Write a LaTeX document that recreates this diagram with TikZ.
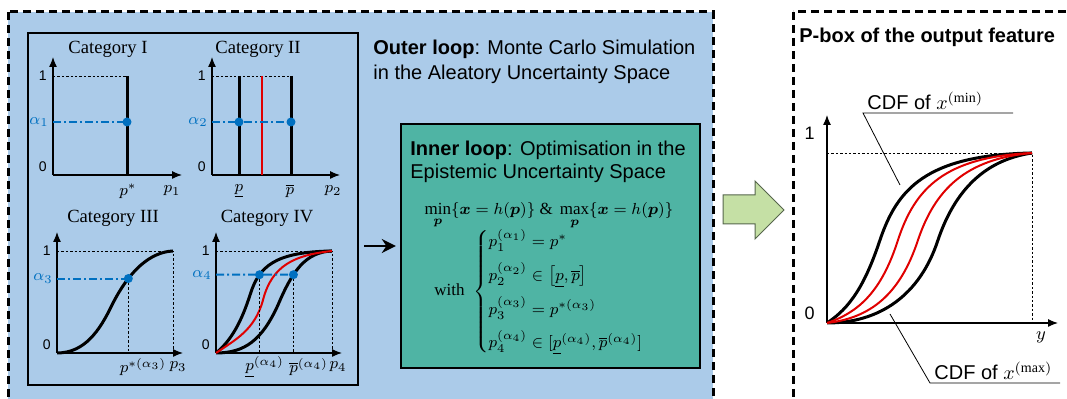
\documentclass[tikz,border=0pt]{standalone}
\usepackage{amsmath,amssymb}
\usepackage{fontspec}
\setmainfont{Liberation Serif}
\setsansfont{Liberation Sans}
\usetikzlibrary{arrows.meta,calc,positioning,fit}
\definecolor{outerblue}{HTML}{ABCBE9}
\definecolor{innerteal}{HTML}{4FB4A4}
\definecolor{arrowgreen}{HTML}{C5E0A5}
\definecolor{arrowedge}{HTML}{56664C}
\definecolor{lvlblue}{HTML}{0070C0}
\definecolor{cdfred}{HTML}{E00000}
\newcommand{\pvec}{\boldsymbol{p}}

\begin{document}
\begin{tikzpicture}[x=0.5pt,y=-0.5pt,
  plotaxis/.style={line width=0.6pt,-{Latex[length=5pt,width=4pt]}},
  cdf/.style={line width=1.5pt},
  redcdf/.style={line width=1pt,cdfred},
  guide/.style={line width=0.3pt,dash pattern=on 1.2pt off 1pt},
  lvl/.style={line width=1pt,lvlblue,dash pattern=on 4pt off 1.5pt on 1pt off 1.5pt},
  lvldot/.style={circle,fill=lvlblue,inner sep=0pt,minimum size=4.5pt},
  ticklab/.style={font=\sffamily\fontsize{7}{8}\selectfont,anchor=east,inner sep=1pt},
  cattitle/.style={font=\fontsize{9.3}{11}\selectfont},
  plab/.style={font=\footnotesize,inner sep=1pt},
  alab/.style={font=\footnotesize,text=lvlblue,anchor=east,inner sep=1pt},
  loopbox/.style={draw,line width=1.2pt,inner sep=0pt},
  dashbox/.style={line width=1.5pt,dash pattern=on 4pt off 2.5pt},
  leader/.style={line width=0.4pt}]
  \useasboundingbox (0,0) rectangle (1067,399);
  \clip (0,0) rectangle (1067,399);

  % outer loop
  \draw[dashbox,fill=outerblue] (8,12) rectangle (713,430);
  \node[loopbox,fit={(28,33) (358,385)}] (plots) {};
  \node[font=\sffamily\fontsize{10}{12.5}\selectfont,align=left,anchor=west,inner sep=0pt] (outerloop) at (373,62)
    {\textbf{Outer loop}: Monte Carlo Simulation\\in the Aleatory Uncertainty Space};

  % Category I
  \node[cattitle] (cat1) at (108,49) {Category I};
  \draw[plotaxis] (53,175) -- (53,57);
  \draw[plotaxis] (53,175) -- (182,175);
  \draw[guide] (53,76) -- (127,76);
  \draw[cdf] (127,76) -- (127,175);
  \draw[lvl] (53,122) -- (127,122);
  \node[lvldot] (d1) at (127,122) {};
  \node[ticklab] (one1) at (49,76) {1};
  \node[ticklab] (zero1) at (49,167) {0};
  \node[alab] (a1) at (51,122) {$\alpha_1$};
  \node[plab] (ps1) at (128,191) {$p^*$};
  \node[plab] (px1) at (172,191) {$p_1$};

  % Category II
  \node[cattitle] (cat2) at (258,49) {Category II};
  \draw[plotaxis] (212,175) -- (212,57);
  \draw[plotaxis] (212,175) -- (340,175);
  \draw[guide] (212,76) -- (291,76);
  \draw[cdf] (239,76) -- (239,175);
  \draw[cdf] (291,76) -- (291,175);
  \draw[redcdf] (262,76) -- (262,175);
  \draw[lvl] (212,122) -- (291,122);
  \node[lvldot] (d2a) at (239,122) {};
  \node[lvldot] (d2b) at (291,122) {};
  \node[ticklab] (one2) at (208,76) {1};
  \node[ticklab] (zero2) at (208,167) {0};
  \node[alab] (a2) at (210,122) {$\alpha_2$};
  \node[plab] (pl2) at (239,191) {$\underline{p}$};
  \node[plab] (pu2) at (290,191) {$\overline{p}$};
  \node[plab] (px2) at (333,191) {$p_2$};

  % Category III
  \node[cattitle] (cat3) at (113,218) {Category III};
  \draw[plotaxis] (57,353) -- (57,232);
  \draw[plotaxis] (57,353) -- (183,353);
  \draw[guide] (57,251) -- (173,251) -- (173,353);
  \draw[cdf] (57,353) .. controls (85,353) and (100,330) .. (112,305)
    .. controls (129,271) and (150,252) .. coordinate[pos=0.3] (c3) (173,251);
  \draw[guide] (c3) -- (c3 |- 0,353);
  \draw[lvl] (57,0 |- c3) -- (c3);
  \node[lvldot] (d3) at (c3) {};
  \node[ticklab] (one3) at (53,251) {1};
  \node[ticklab] (zero3) at (53,345) {0};
  \node[alab] (a3) at (55,0 |- c3) {$\alpha_3$};
  \node[plab] (ps3) at (143,367) {$p^{*(\alpha_3)}$};
  \node[plab] (px3) at (178,367) {$p_3$};

  % Category IV
  \node[cattitle] (cat4) at (267,218) {Category IV};
  \draw[plotaxis] (216,353) -- (216,232);
  \draw[plotaxis] (216,353) -- (342,353);
  \draw[guide] (216,251) -- (332,251) -- (332,353);
  \draw[cdf] (216,353) .. controls (232,340) and (242,320) .. (250,295)
    .. controls (259,266) and (275,252) .. coordinate[pos=0.27] (c4a) (332,251);
  \draw[cdf] (216,353) .. controls (245,353) and (262,340) .. (278,305)
    .. controls (292,272) and (305,252) .. coordinate[pos=0.36] (c4b) (332,251);
  \draw[redcdf] (216,353) .. controls (235,340) and (255,330) .. (263,300)
    .. controls (272,265) and (295,255) .. (332,251);
  \draw[guide] (c4a) -- (c4a |- 0,353);
  \draw[guide] (c4b) -- (c4b |- 0,353);
  \draw[lvl] (216,0 |- c4a) -- (c4b);
  \node[lvldot] (d4a) at (c4a) {};
  \node[lvldot] (d4b) at (c4b) {};
  \node[ticklab] (one4) at (212,251) {1};
  \node[ticklab] (zero4) at (212,345) {0};
  \node[alab] (a4) at (214,0 |- c4a) {$\alpha_4$};
  \node[plab,anchor=west] (pl4) at (243,367) {$\underline{p}^{(\alpha_4)}$};
  \node[plab,anchor=west] (pu4) at (287,367) {$\overline{p}^{(\alpha_4)}$};
  \node[plab] (px4) at (338,367) {$p_4$};

  % inner loop
  \node[loopbox,fill=innerteal,fit={(401,124) (700,368)}] (inner) {};
  \node[font=\sffamily\fontsize{10}{11.5}\selectfont,align=left,anchor=west,inner sep=0pt] (innerloop) at (410,162)
    {\textbf{Inner loop}: Optimisation in the\\Epistemic Uncertainty Space};
  \node[font=\fontsize{8.5}{10}\selectfont] (minmax) at (549,216)
    {$\min\limits_{\pvec}\{\boldsymbol{x}=h(\pvec)\}\ \&\ \max\limits_{\pvec}\{\boldsymbol{x}=h(\pvec)\}$};
  \node[font=\fontsize{8.5}{10}\selectfont] (cond) at (548,292)
    {with\ \ $\begin{cases}
      p_1^{(\alpha_1)} = p^* \\[4.5pt]
      p_2^{(\alpha_2)} \in \bigl[\underline{p},\overline{p}\bigr] \\[4.5pt]
      p_3^{(\alpha_3)} = p^{*(\alpha_3)} \\[4.5pt]
      p_4^{(\alpha_4)} \in [\underline{p}^{(\alpha_4)},\overline{p}^{(\alpha_4)}]
    \end{cases}$};
  \draw[line width=1.3pt,-{Stealth[length=7pt,width=7pt]},shorten <=2.5pt,shorten >=2pt]
    (plots.east |- inner.west) -- (inner.west);

  % transfer arrow
  \draw[fill=arrowgreen,draw=arrowedge,line width=0.5pt]
    (723,195) -- (755,195) -- (755,181) -- (784,210) -- (755,239) -- (755,224) -- (723,224) -- cycle;

  % p-box
  \draw[dashbox,fill=white] (793,12) rectangle (1090,430);
  \node[font=\sffamily\bfseries,anchor=west,inner sep=0pt] (pboxtitle) at (799,37) {P-box of the output feature};
  \draw[plotaxis] (827,323) -- (827,115);
  \draw[plotaxis] (827,323) -- (1058,323);
  \draw[guide] (827,153) -- (1032,153) -- (1032,323);
  \draw[cdf] (827,323) .. controls (850,308) and (865,285) .. (880,240)
    .. controls (897,190) and (925,155) .. (1032,153);
  \draw[cdf] (827,323) .. controls (880,323) and (920,295) .. (938,240)
    .. controls (955,190) and (985,160) .. (1032,153);
  \draw[redcdf] (827,323) .. controls (860,312) and (882,290) .. (898,240)
    .. controls (915,188) and (945,157) .. (1032,153);
  \draw[redcdf] (827,323) .. controls (870,318) and (900,295) .. (918,240)
    .. controls (935,190) and (965,159) .. (1032,153);
  \node[font=\sffamily\fontsize{9}{10}\selectfont,anchor=east,inner sep=1pt] (oneout) at (817,133) {1};
  \node[font=\sffamily\fontsize{9}{10}\selectfont,anchor=east,inner sep=1pt] (zeroout) at (817,313) {0};
  \node[font=\small,inner sep=0pt] (ylab) at (1041,337) {$y$};

  \node[font=\sffamily,anchor=south west,inner sep=1pt] (cdfmin) at (865,112) {CDF of $x^{(\mathrm{min})}$};
  \coordinate (minhit) at (900,185);
  \coordinate (minknee) at (863,113);
  \coordinate (minend) at (1013,113);
  \draw[leader] (minhit) -- (minknee) -- (minend);
  \node[font=\sffamily,anchor=south west,inner sep=1pt] (cdfmax) at (932,382) {CDF of $x^{(\mathrm{max})}$};
  \coordinate (maxhit) at (890,314);
  \coordinate (maxknee) at (930,383);
  \coordinate (maxend) at (1060,383);
  \draw[leader] (maxhit) -- (maxknee) -- (maxend);
\end{tikzpicture}
\end{document}
